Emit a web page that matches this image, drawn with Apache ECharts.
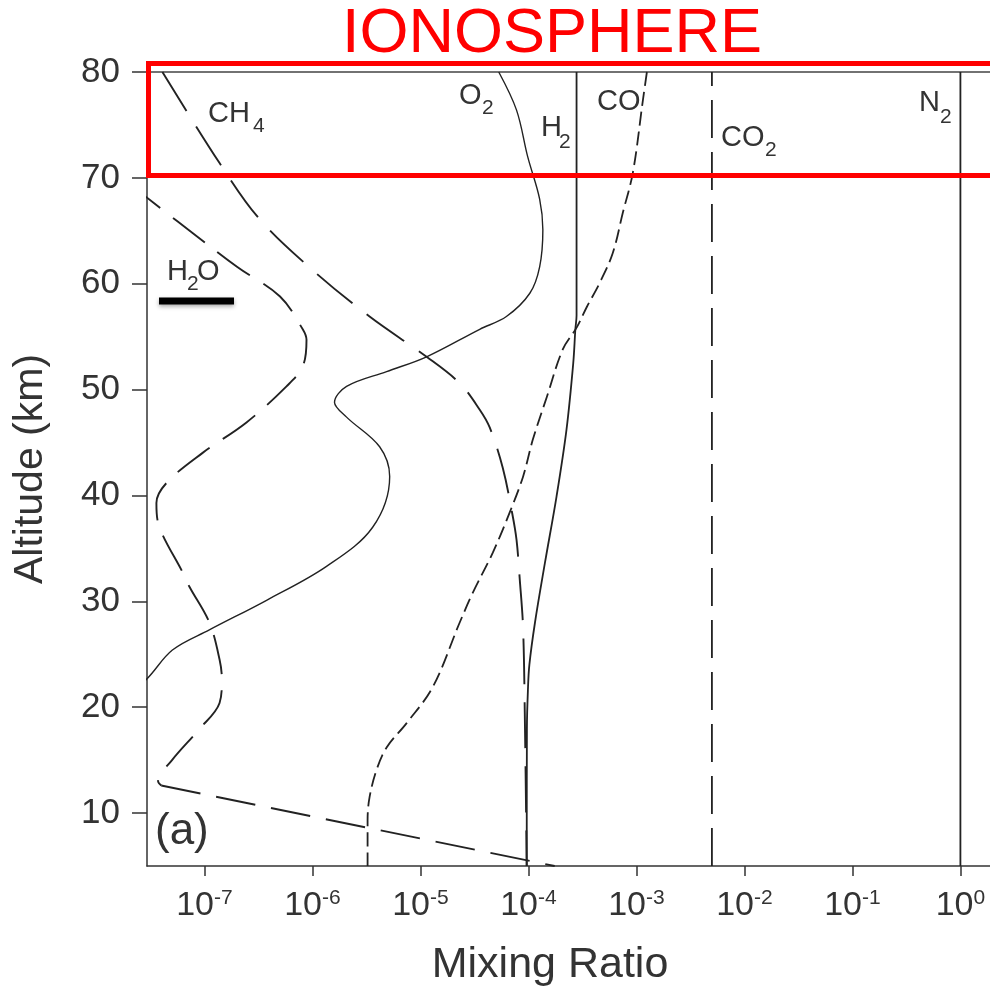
<!DOCTYPE html>
<html>
<head>
<meta charset="utf-8">
<title>Mixing ratio profiles</title>
<script src="https://cdn.jsdelivr.net/npm/echarts@6/dist/echarts.min.js"></script>
<style>
html, body { margin: 0; padding: 0; background: #fff; }
#main { width: 990px; height: 989px; }
</style>
</head>
<body>
<div id="main"></div>
<script>
// altitude (km) and mixing ratio
var o2Alt = [80, 76.4, 72, 68, 65.1, 61.6, 59.1, 56.9, 55.7, 53.1, 51.7, 50.3, 48.8, 47.4, 44.6, 41.8, 37.0, 33.3, 30.1, 27.3, 25.4, 22.6, 21.0]
var o2Mix = [5.31e-5, 7.76e-5, 9.84e-5, 1.27e-4, 1.36e-4, 1.27e-4, 1.03e-4, 6.25e-5, 3.54e-5, 1.14e-5, 4.86e-6, 2.07e-6, 1.60e-6, 2.07e-6, 4.19e-6, 5.19e-6, 3.61e-6, 1.35e-6, 3.76e-7, 1.11e-7, 5.05e-8, 2.88e-8, 1.78e-8]

var h2Alt = [80, 57, 55.7, 52.5, 46.2, 39.9, 33.6, 28.0, 24.0, 21.6, 18, 5]
var h2Mix = [2.79e-4, 2.79e-4, 2.72e-4, 2.60e-4, 2.25e-4, 1.82e-4, 1.42e-4, 1.15e-4, 1.02e-4, 9.89e-5, 9.68e-5, 9.64e-5]

var coAlt = [80, 77.4, 70.5, 66.7, 62.9, 60.1, 57.8, 55.9, 53.8, 49.3, 45.3, 41.8, 38.4, 34.6, 30.8, 28.0, 21.9, 18.5, 16.2, 14.1, 11.5, 9.3, 5]
var coMix = [1.25e-3, 1.15e-3, 9.27e-4, 7.48e-4, 6.04e-4, 4.58e-4, 3.47e-4, 2.81e-4, 2.08e-4, 1.48e-4, 1.10e-4, 8.93e-5, 6.71e-5, 4.68e-5, 3.05e-5, 2.31e-5, 1.30e-5, 7.45e-6, 4.86e-6, 3.93e-6, 3.38e-6, 3.24e-6, 3.24e-6]

var ch4Alt = [80, 71.4, 66.1, 61.3, 56.9, 53.1, 50.6, 48.1, 46.4, 42.6, 38.3, 35.8, 32.0, 27.6, 19.5, 5]
var ch4Mix = [4.08e-8, 1.38e-7, 3.24e-7, 1.0e-6, 3.38e-6, 1.14e-5, 2.31e-5, 3.54e-5, 4.39e-5, 5.79e-5, 7.08e-5, 7.76e-5, 8.32e-5, 8.91e-5, 9.25e-5, 9.64e-5]

var h2oAlt = [69.5, 68.2, 67.0, 64.8, 61.6, 58.8, 55.7, 54.7, 52.2, 50.3, 46.9, 44.0, 41.2, 39.3, 37.0, 32.7, 31.4, 28.0, 24.5, 22.6, 20.4, 17.9, 15.0, 13.0, 12.6]
var h2oMix = [2.0e-8, 2.88e-8, 4.07e-8, 7.76e-8, 2.0e-7, 5.01e-7, 8.13e-7, 8.81e-7, 8.13e-7, 5.75e-7, 2.45e-7, 9.55e-8, 4.47e-8, 3.59e-8, 3.83e-8, 6.31e-8, 7.24e-8, 1.11e-7, 1.38e-7, 1.45e-7, 1.38e-7, 8.91e-8, 5.01e-8, 3.72e-8, 3.98e-8]
var h2oTailAlt = [12.6, 5]
var h2oTailMix = [3.98e-8, 1.75e-4]

var co2Alt = [5, 80]
var co2Mix = [5.0e-3, 5.0e-3]
var n2Alt = [5, 80]
var n2Mix = [1.0, 1.0]

var FONT = '"Liberation Sans", Arial, sans-serif'
var INK = '#222'
var X_MIN = Math.pow(10, -7.532)
var X_MAX = Math.pow(10, 0.274)

function pairs(xs, ys) {
    var out = []
    for (var i = 0; i < xs.length; i++) out.push([xs[i], ys[i]])
    return out
}

function curve(name, mix, alt, width, dash, smooth) {
    return {
        name: name,
        type: 'line',
        data: pairs(mix, alt),
        showSymbol: false,
        smooth: smooth,
        clip: true,
        silent: true,
        lineStyle: { color: INK, width: width, type: dash || 'solid' }
    }
}

// text placed by its baseline
function txt(x, base, s, size, color) {
    return {
        type: 'text',
        x: x,
        y: base - 0.35 * size,
        z: 100,
        style: {
            text: s,
            font: size + 'px ' + FONT,
            fill: color || '#333',
            textAlign: 'left',
            textVerticalAlign: 'middle'
        }
    }
}

var myChart = echarts.init(document.getElementById('main'))

var option = {
    animation: false,
    backgroundColor: '#fff',
    grid: { left: 147, top: 72, right: 0, height: 794 },
    xAxis: [{
        type: 'log',
        logBase: 10,
        min: X_MIN,
        max: X_MAX,
        splitNumber: 8,
        axisLine: { show: true, onZero: false, lineStyle: { color: '#333', width: 1.5 } },
        axisTick: { show: true, length: 10, lineStyle: { color: '#333', width: 1.5 } },
        splitLine: { show: false },
        axisLabel: {
            showMinLabel: false,
            showMaxLabel: false,
            margin: 22,
            formatter: function (v) {
                var e = Math.round(Math.log(v) / Math.LN10)
                return '{b|10}{s|' + e + '}'
            },
            rich: {
                b: { fontSize: 34, lineHeight: 36, fontFamily: FONT, color: '#333' },
                s: { fontSize: 21, lineHeight: 21, fontFamily: FONT, color: '#333', verticalAlign: 'top' }
            }
        }
    }, {
        // top frame line
        type: 'log',
        position: 'top',
        min: X_MIN,
        max: X_MAX,
        axisLine: { show: true, onZero: false, lineStyle: { color: '#444', width: 1.5 } },
        axisTick: { show: false },
        axisLabel: { show: false },
        splitLine: { show: false }
    }],
    yAxis: {
        type: 'value',
        min: 5,
        max: 80,
        splitNumber: 8,
        axisLine: { show: true, onZero: false, lineStyle: { color: '#333', width: 1.5 } },
        axisTick: { show: true, length: 15, lineStyle: { color: '#333', width: 1.5 } },
        splitLine: { show: false },
        axisLabel: { showMinLabel: false, margin: 27, fontSize: 35, fontFamily: FONT, color: '#333' }
    },
    series: [
        curve('N2', n2Mix, n2Alt, 1.8, 'solid', false),
        curve('CO2', co2Mix, co2Alt, 1.8, [38, 14], false),
        curve('H2', h2Mix, h2Alt, 1.8, 'solid', 0.35),
        curve('O2', o2Mix, o2Alt, 1.4, 'solid', 0.35),
        curve('CO', coMix, coAlt, 1.8, [14, 6], 0.35),
        curve('CH4', ch4Mix, ch4Alt, 1.9, [46, 18], 0.35),
        curve('H2O', h2oMix, h2oAlt, 1.9, [40, 16], 0.35),
        curve('H2O', h2oTailMix, h2oTailAlt, 1.9, [40, 16], false)
    ],
    graphic: [
        // species labels
        txt(208, 124, 'CH', 29), txt(253, 134, '4', 21),
        txt(459, 106, 'O', 29), txt(482, 116, '2', 21),
        txt(541, 138, 'H', 29), txt(559, 150, '2', 21),
        txt(597, 112, 'CO', 29),
        txt(721, 148, 'CO', 29), txt(765, 158, '2', 21),
        txt(919, 113, 'N', 29), txt(940, 125, '2', 21),
        txt(167, 282, 'H', 29), txt(187, 292, '2', 21), txt(197, 282, 'O', 29),
        txt(155, 847, '(a)', 44),
        {
            type: 'rect', z: 100,
            shape: { x: 159, y: 297.5, width: 75, height: 7 },
            style: { fill: '#000', shadowBlur: 4, shadowOffsetY: 2, shadowColor: 'rgba(0,0,0,0.35)' }
        },
        // axis titles
        {
            type: 'text', x: 550, y: 965, z: 100,
            style: { text: 'Mixing Ratio', font: '43px ' + FONT, fill: '#333', textAlign: 'center', textVerticalAlign: 'middle' }
        },
        {
            type: 'text', x: 31, y: 469, z: 100, rotation: Math.PI / 2,
            style: { text: 'Altitude (km)', font: '41px ' + FONT, fill: '#333', textAlign: 'center', textVerticalAlign: 'middle' }
        },
        // ionosphere box
        {
            type: 'text', x: 552, y: 35, z: 100,
            style: { text: 'IONOSPHERE', font: '63px ' + FONT, fill: '#ff0000', textAlign: 'center', textVerticalAlign: 'middle' }
        },
        {
            type: 'rect', z: 101,
            shape: { x: 148.5, y: 63.5, width: 900, height: 112 },
            style: { fill: 'none', stroke: '#ff0000', lineWidth: 5 }
        }
    ]
}

myChart.setOption(option)
</script>
</body>
</html>
